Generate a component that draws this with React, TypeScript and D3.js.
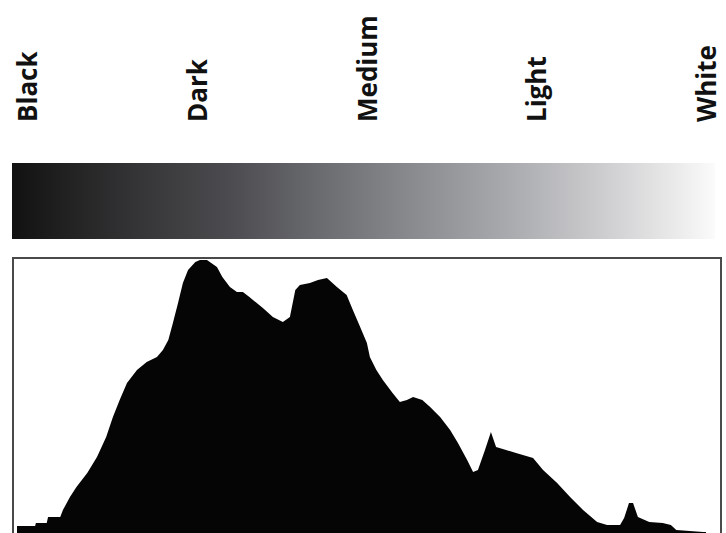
import React from "react";
import * as d3 from "d3";

// Tone labels across the top
const toneLabels: string[] = ["Black", "Dark", "Medium", "Light", "White"];

// Histogram: tonal level (0-255) and relative pixel count
const levels: number[] = [
  0, 6.7, 7, 11, 11.5, 16, 17, 19.6, 22, 26, 29.6, 33, 35.5, 38, 40.7, 44.4, 48, 51.8, 54, 56,
  57.7, 59.6, 61.4, 63.3, 66, 67.7, 70.3, 74, 76, 78.8, 81.4, 83.6, 86, 91, 94.7, 98.4, 101, 103,
  104.7, 108.4, 111.4, 114.7, 118.4, 122, 124.3, 127, 129.5, 130.6, 133, 135.4, 139, 141.7, 144.3,
  146.6, 150, 152.9, 156.6, 160.3, 163.2, 166.6, 168.8, 170.6, 173.2, 175.4, 177.3, 181, 184.7, 191,
  194.7, 199.9, 204.7, 209.5, 214.7, 218.4, 223.2, 224.7, 226.5, 228, 229.8, 234, 239, 242, 244, 254, 255,
];
const counts: number[] = [
  7, 7, 10, 10, 16, 16, 23, 36, 46, 60, 76, 96, 116, 133, 150, 163, 171, 176, 183, 193,
  210, 230, 250, 263, 271, 273, 273, 266, 256, 246, 241, 241, 236, 225, 216, 211, 216, 243,
  248, 250, 253, 255, 246, 238, 223, 206, 190, 176, 163, 153, 140, 131, 133,
  136, 133, 126, 116, 103, 90, 73, 61, 63, 83, 101, 86, 83, 80, 75,
  63, 50, 36, 23, 11, 8, 8, 15, 30, 30, 16, 11, 10, 8, 3, 1, 1,
];

const W = 726;
const H = 533;

export default function App() {
  const x = d3.scaleLinear().domain([0, 255]).range([17, 706]);
  const y = d3.scaleLinear().domain([0, 275]).range([533, 258]);
  const labelX = d3.scalePoint<string>().domain(toneLabels).range([37, 716]);

  const pts = levels.map((l, i) => [l, counts[i]] as [number, number]);
  const area = d3
    .area<[number, number]>()
    .x((d) => x(d[0]))
    .y0(y(0) + 4)
    .y1((d) => y(d[1]))
    .curve(d3.curveLinear);

  return (
    <svg
      width={W}
      height={H}
      style={{ position: "fixed", left: 0, top: 0, display: "block", background: "#fff" }}
    >
      <defs>
        <linearGradient id="tone" x1="0" x2="1" y1="0" y2="0">
          <stop offset="0" stopColor="#111111" />
          <stop offset="0.08" stopColor="#222223" />
          <stop offset="0.18" stopColor="#353537" />
          <stop offset="0.31" stopColor="#4c4c50" />
          <stop offset="0.44" stopColor="#6b6c70" />
          <stop offset="0.58" stopColor="#8c8d90" />
          <stop offset="0.71" stopColor="#aaabae" />
          <stop offset="0.84" stopColor="#cdcdd0" />
          <stop offset="0.95" stopColor="#ececec" />
          <stop offset="1" stopColor="#fbfbfb" />
        </linearGradient>
      </defs>

      {toneLabels.map((t) => (
        <text
          key={t}
          transform={`translate(${labelX(t)},122) rotate(-90)`}
          fontFamily="'Open Sans', sans-serif"
          fontWeight={700}
          fontSize={26}
          fill="#111"
        >
          {t}
        </text>
      ))}

      <rect x={12} y={163} width={703} height={76} fill="url(#tone)" />

      <rect x={13} y={258} width={708} height={290} fill="#fff" stroke="#4a4a4a" strokeWidth={2} />
      <path d={area(pts) || ""} fill="#050505" />
    </svg>
  );
}
